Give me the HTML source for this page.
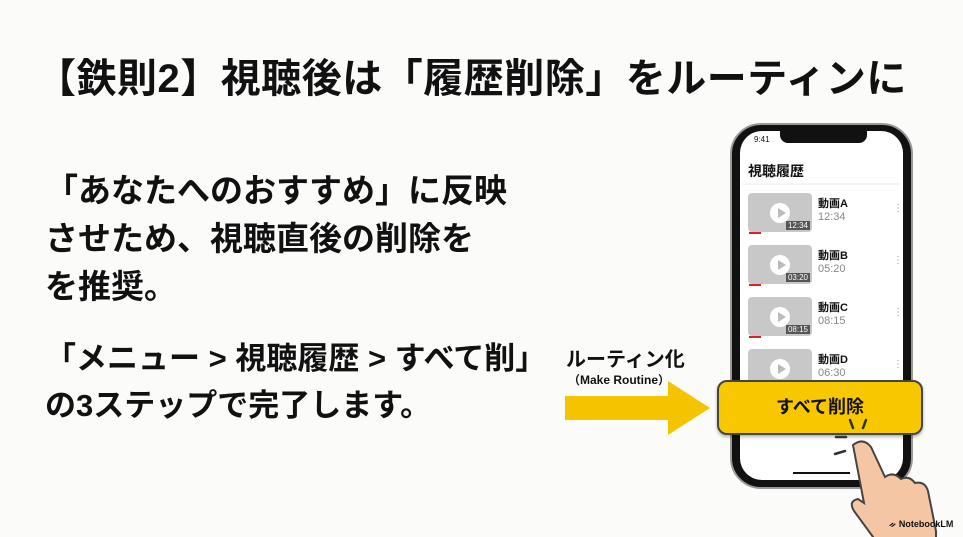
<!DOCTYPE html>
<html><head><meta charset="utf-8"><style>
body{margin:0;width:963px;height:537px;background:#fbfbf9;position:relative;overflow:hidden;font-family:"Liberation Sans","Noto Sans CJK JP",sans-serif;color:#111}
.t{position:absolute;white-space:nowrap;font-weight:bold}
.row{position:absolute;left:748px;width:150px;height:42px}
.th{position:absolute;left:0;top:0;width:64px;height:39px;background:#c8c8c8;border-radius:4px}
.th .p{position:absolute;left:22px;top:10px;width:20px;height:20px;border-radius:50%;background:#fff}
.th .p:after{content:"";position:absolute;left:8px;top:5px;border-left:8px solid #bbb;border-top:5px solid transparent;border-bottom:5px solid transparent}
.th .d{position:absolute;right:2px;bottom:2px;background:#555;color:#fff;font-size:8px;padding:0 2px}
.th .r{position:absolute;left:1px;bottom:-2px;width:12px;height:2px;background:#d22}
.nm{position:absolute;left:70px;top:2px;font-size:11px;font-weight:bold}
.tm{position:absolute;left:70px;top:18px;font-size:11px;color:#888}
.dt{position:absolute;left:145px;top:10px;font-size:10px;color:#999}
</style></head><body>
<div class="t" style="left:36px;top:46px;font-size:40px;letter-spacing:0.5px">【鉄則2】視聴後は「履歴削除」をルーティンに</div>
<div class="t" style="left:45px;top:167px;font-size:33px;line-height:48px">「あなたへのおすすめ」に反映<br>させため、視聴直後の削除を<br>を推奨。</div>
<div class="t" style="left:45px;top:335px;font-size:31px;line-height:47px">「メニュー &gt; 視聴履歴 &gt; すべて削」<br>の3ステップで完了します。</div>
<div class="t" style="left:566px;top:343px;font-size:20px">ルーティン化</div>
<div class="t" style="left:568px;top:371px;font-size:12px">（Make Routine）</div>
<svg style="position:absolute;left:0;top:0" width="963" height="537">
<polygon points="565,396 668,396 668,381 710,408 668,435 668,420 565,420" fill="#f5c400"/>
<rect x="731" y="124" width="181" height="364" rx="30" fill="#111" stroke="#999" stroke-width="2"/>
<rect x="740" y="131" width="163" height="349" rx="22" fill="#fff"/>
<path d="M780 131 h87 v4 a8 8 0 0 1 -8 8 h-71 a8 8 0 0 1 -8 -8z" fill="#111"/>
<line x1="742" y1="184" x2="900" y2="184" stroke="#eee"/>
<line x1="793" y1="473" x2="850" y2="473" stroke="#111" stroke-width="2"/>
</svg>
<div class="t" style="left:754px;top:135px;font-size:8px;font-weight:normal">9:41</div>
<div class="t" style="left:748px;top:161px;font-size:14px">視聴履歴</div>
<div class="row" style="top:193px"><div class="th"><div class="p"></div><div class="d">12:34</div><div class="r"></div></div><div class="nm">動画A</div><div class="tm">12:34</div><div class="dt">⋮</div></div>
<div class="row" style="top:245px"><div class="th"><div class="p"></div><div class="d">03:20</div><div class="r"></div></div><div class="nm">動画B</div><div class="tm">05:20</div><div class="dt">⋮</div></div>
<div class="row" style="top:297px"><div class="th"><div class="p"></div><div class="d">08:15</div><div class="r"></div></div><div class="nm">動画C</div><div class="tm">08:15</div><div class="dt">⋮</div></div>
<div class="row" style="top:349px"><div class="th"><div class="p"></div><div class="r"></div></div><div class="nm">動画D</div><div class="tm">06:30</div><div class="dt">⋮</div></div>
<div style="position:absolute;left:717px;top:380px;width:202px;height:51px;background:#f7c800;border:2px solid #444;border-radius:10px;box-shadow:0 2px 3px rgba(0,0,0,.3);text-align:center;line-height:51px;font-size:18px;font-weight:bold">すべて削除</div>
<svg style="position:absolute;left:0;top:0" width="963" height="537">
<g stroke="#333" stroke-width="2.5" stroke-linecap="round"><line x1="850" y1="420" x2="853" y2="428"/><line x1="866" y1="420" x2="863" y2="428"/><line x1="836" y1="437" x2="846" y2="437"/><line x1="835" y1="454" x2="845" y2="451"/></g>
<path d="M853 445 q10 -8 18 2 l14 30 q8 -6 16 2 q8 -4 14 4 q10 -2 13 8 l8 40 v10 h-60 l-22 -30 q-6 -10 4 -12 l6 4z" fill="#f4c6a4" stroke="#444" stroke-width="2"/>
</svg>
<div class="t" style="left:889px;top:519px;font-size:9px">ᨀ NotebookLM</div>
</body></html>
